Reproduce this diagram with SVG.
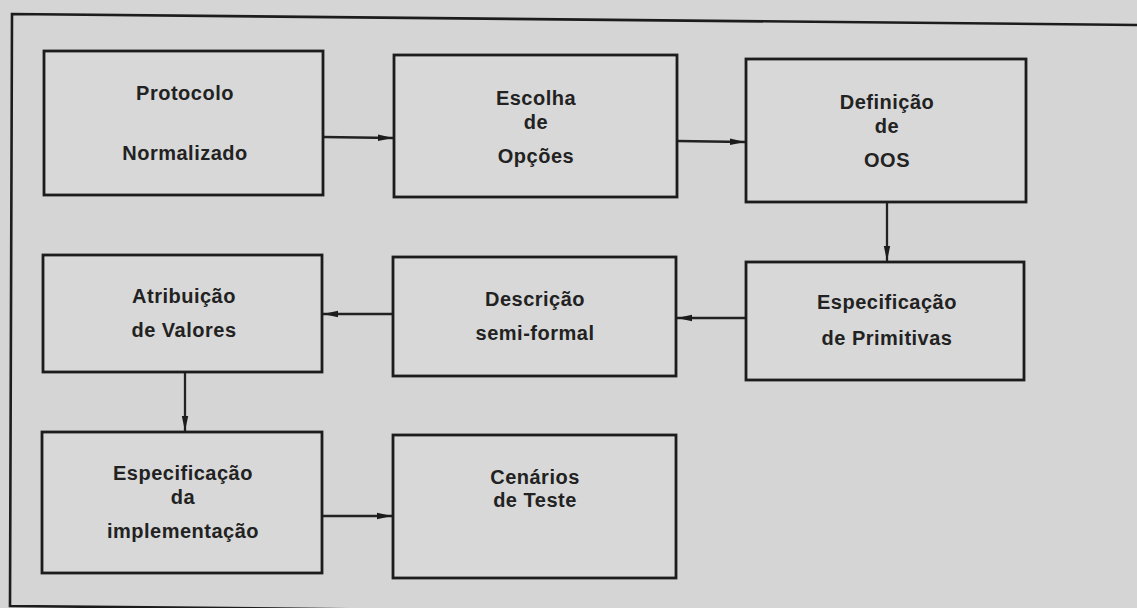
<svg xmlns="http://www.w3.org/2000/svg" width="1137" height="608" viewBox="0 0 1137 608">
<style>
.bg{fill:#d5d5d5}
.frame{fill:none;stroke:#1c1c1c;stroke-width:2.6}
.box{fill:#d8d8d8;stroke:#1c1c1c;stroke-width:2.8}
.lbl{font-family:"Liberation Sans",Arial,sans-serif;font-weight:bold;font-size:20px;letter-spacing:0.5px;fill:#222;text-anchor:middle}
.edge{stroke:#222;stroke-width:2.3;fill:none}
</style>
<defs>
<marker id="ah" markerUnits="userSpaceOnUse" markerWidth="18" markerHeight="10" refX="15" refY="4" orient="auto">
<path d="M0,0.8 L15,4 L0,7.2 z" fill="#1c1c1c"/>
</marker>
</defs>
<rect class="bg" x="0" y="0" width="1137" height="608"/>
<path class="frame" d="M1140,25 L12,14 L10,606 L1140,617"/>
<g id="connectors">
<line class="edge" x1="323" y1="137" x2="393" y2="138" marker-end="url(#ah)"/>
<line class="edge" x1="677" y1="141" x2="745" y2="142" marker-end="url(#ah)"/>
<line class="edge" x1="887" y1="202" x2="887" y2="261" marker-end="url(#ah)"/>
<line class="edge" x1="746" y1="318" x2="677" y2="318" marker-end="url(#ah)"/>
<line class="edge" x1="393" y1="314" x2="323" y2="314" marker-end="url(#ah)"/>
<line class="edge" x1="185" y1="372" x2="185" y2="431" marker-end="url(#ah)"/>
<line class="edge" x1="322" y1="516" x2="392" y2="516" marker-end="url(#ah)"/>
</g>
<g id="n1">
<rect class="box" x="44" y="51" width="279" height="144"/>
<text class="lbl" x="185" y="100">Protocolo</text>
<text class="lbl" x="185" y="160">Normalizado</text>
</g>
<g id="n2">
<rect class="box" x="394" y="55" width="283" height="142"/>
<text class="lbl" x="536" y="105">Escolha</text>
<text class="lbl" x="536" y="129">de</text>
<text class="lbl" x="536" y="163">Opções</text>
</g>
<g id="n3">
<rect class="box" x="746" y="59" width="280" height="143"/>
<text class="lbl" x="887" y="109">Definição</text>
<text class="lbl" x="887" y="133">de</text>
<text class="lbl" x="887" y="167">OOS</text>
</g>
<g id="n4">
<rect class="box" x="746" y="262" width="278" height="118"/>
<text class="lbl" x="887" y="309">Especificação</text>
<text class="lbl" x="887" y="345">de Primitivas</text>
</g>
<g id="n5">
<rect class="box" x="393" y="257" width="283" height="119"/>
<text class="lbl" x="535" y="306">Descrição</text>
<text class="lbl" x="535" y="340">semi-formal</text>
</g>
<g id="n6">
<rect class="box" x="43" y="255" width="279" height="117"/>
<text class="lbl" x="184" y="303">Atribuição</text>
<text class="lbl" x="184" y="337">de Valores</text>
</g>
<g id="n7">
<rect class="box" x="42" y="432" width="280" height="141"/>
<text class="lbl" x="183" y="480">Especificação</text>
<text class="lbl" x="183" y="504">da</text>
<text class="lbl" x="183" y="538">implementação</text>
</g>
<g id="n8">
<rect class="box" x="393" y="435" width="283" height="143"/>
<text class="lbl" x="535" y="484">Cenários</text>
<text class="lbl" x="535" y="507">de Teste</text>
</g>
</svg>
